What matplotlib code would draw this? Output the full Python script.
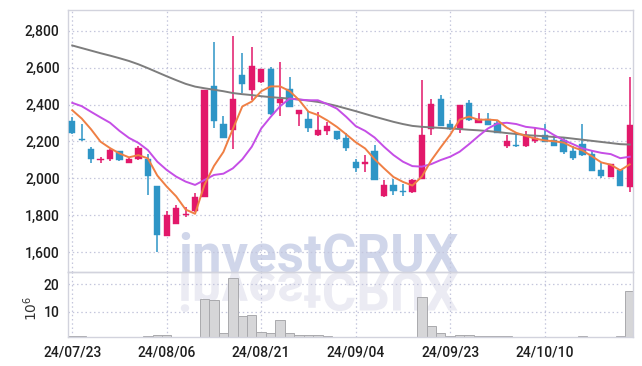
import matplotlib
matplotlib.use("Agg")
import matplotlib.pyplot as plt
from matplotlib.textpath import TextPath
from matplotlib.patches import PathPatch
from matplotlib.font_manager import FontProperties
from matplotlib.transforms import Affine2D
import numpy as np

# ---------------- data ----------------
tick_idx = [0, 10, 20, 30, 40, 50]
tick_labels = ['24/07/23', '24/08/06', '24/08/21', '24/09/04', '24/09/23', '24/10/10']

opens = [2310, 2215, 2160, 2100, 2105, 2150, 2085, 2105, 2105, 1960,
         1685, 1750, 1800, 1820, 1900, 2500, 2295, 2260, 2560, 2480,
         2520, 2590, 2410, 2485, 2350, 2320, 2235, 2258, 2255, 2220,
         2090, 2077, 2148, 1902, 1963, 1930, 1925, 1995, 2265, 2432,
         2293, 2265, 2408, 2301, 2320, 2300, 2175, 2178, 2175, 2200,
         2234, 2207, 2207, 2148, 2188, 2131, 2045, 2009, 2045, 1955]
highs = [2330, 2295, 2170, 2115, 2160, 2150, 2110, 2175, 2130, 1960,
         1820, 1855, 1847, 1922, 2480, 2740, 2340, 2770, 2680, 2710,
         2590, 2605, 2630, 2550, 2370, 2365, 2360, 2305, 2258, 2243,
         2103, 2126, 2178, 1990, 1995, 1968, 1998, 2535, 2428, 2450,
         2318, 2400, 2427, 2355, 2355, 2312, 2234, 2247, 2257, 2273,
         2297, 2222, 2225, 2175, 2297, 2153, 2081, 2080, 2048, 2550]
lows = [2240, 2200, 2085, 2085, 2095, 2095, 2085, 2100, 1910, 1603,
        1685, 1750, 1790, 1815, 1900, 2270, 2218, 2160, 2460, 2425,
        2515, 2345, 2340, 2385, 2283, 2250, 2228, 2235, 2205, 2150,
        2032, 2032, 1990, 1900, 1910, 1904, 1922, 1995, 2235, 2283,
        2262, 2243, 2312, 2300, 2288, 2245, 2162, 2170, 2170, 2190,
        2196, 2175, 2131, 2099, 2120, 2040, 2000, 2005, 1958, 1928]
closes = [2245, 2210, 2105, 2103, 2155, 2100, 2105, 2165, 2015, 1690,
          1800, 1840, 1808, 1900, 2477, 2310, 2220, 2430, 2510, 2610,
          2590, 2350, 2430, 2385, 2370, 2270, 2260, 2283, 2212, 2165,
          2058, 2090, 1992, 1965, 1930, 1926, 1990, 2235, 2405, 2285,
          2265, 2400, 2316, 2320, 2290, 2247, 2200, 2175, 2237, 2216,
          2198, 2177, 2140, 2112, 2127, 2041, 2010, 2077, 1960, 2288]
volume_m = [0.9, 0.9, 0.8, 0.4, 0.4, 0.4, 0.4, 0.7, 1.0, 1.3,
            1.3, 0.5, 0.5, 0.5, 14.5, 14.1, 2.1, 22.2, 8.4, 8.8,
            2.7, 2.3, 7.0, 2.1, 1.5, 1.4, 1.3, 1.0, 0.8, 0.8,
            0.8, 0.5, 0.5, 0.8, 0.8, 0.8, 0.5, 15.3, 4.8, 2.1,
            0.9, 1.5, 1.5, 0.9, 0.9, 0.9, 0.9, 0.5, 0.5, 0.5,
            0.5, 0.5, 0.5, 0.5, 0.9, 0.5, 0.5, 0.5, 0.9, 17.7]
ma5 = [2369, 2324, 2265, 2198, 2163.6, 2134.6, 2113.6, 2125.6, 2108, 2015,
       1955, 1902, 1830.6, 1807.6, 1965, 2067, 2143, 2267.4, 2389.4, 2416,
       2472, 2498, 2498, 2473, 2425, 2361, 2343, 2313.6, 2279, 2238,
       2195.6, 2161.6, 2103.4, 2054, 2007, 1980.6, 1960.6, 2009.2, 2097.2, 2168.2,
       2236, 2318, 2334.2, 2317.2, 2318.2, 2314.6, 2274.6, 2246.4, 2229.8, 2215,
       2205.2, 2200.6, 2193.6, 2168.6, 2150.8, 2119.4, 2086, 2073.4, 2043, 2075.2]
ma20 = [2409, 2391, 2360, 2330, 2301, 2257, 2219, 2192, 2153, 2090,
        2045, 2009, 1982, 1964, 1991, 2018, 2025, 2054, 2103, 2171,
        2270, 2333, 2391, 2432, 2427, 2423, 2423, 2402, 2378, 2333,
        2283, 2257, 2221, 2171, 2126, 2090, 2066, 2063, 2077, 2099,
        2117, 2144, 2185, 2229, 2270, 2297, 2301, 2294, 2279, 2273,
        2265, 2234, 2207, 2185, 2162, 2149, 2138, 2131, 2109, 2117]
ma_long = [2720, 2706, 2692, 2678, 2665, 2651, 2636, 2618, 2597, 2575,
           2553, 2532, 2512, 2497, 2488, 2480, 2472, 2462, 2456, 2451,
           2445, 2440, 2436, 2432, 2427, 2421, 2414, 2404, 2392, 2378,
           2364, 2349, 2334, 2320, 2306, 2294, 2284, 2279, 2276, 2273,
           2270, 2267, 2263, 2260, 2256, 2251, 2245, 2240, 2234, 2231,
           2228, 2224, 2221, 2215, 2209, 2203, 2197, 2191, 2185, 2183]
price_ticks = [1600, 1800, 2000, 2200, 2400, 2600, 2800]
volume_ticks = [10, 20]
watermark = 'investCRUX'

# ---------------- styling ----------------
UP = '#e2186a'
DOWN = '#2e95c6'
GRID = '#c4c6dc'
SPINE = '#d2d3dd'
TXT = '#1e1e1e'

plt.rcParams['font.family'] = ['Roboto', 'DejaVu Sans']

fig = plt.figure(figsize=(6.42, 3.66), dpi=100)
L, R = 68 / 642, 633 / 642
top = 1 - 9.5 / 366
mid = 1 - 272 / 366
bot = 1 - 337.3 / 366
ax = fig.add_axes([L, mid, R - L, top - mid])
axv = fig.add_axes([L, bot, R - L, mid - bot], sharex=ax)
for a in (ax, axv):
    a.set_facecolor('none')
    for s in a.spines.values():
        s.set_color(SPINE)
        s.set_linewidth(1.0)
    a.grid(True, color=GRID, linestyle=(0, (1.2, 2.2)), linewidth=0.9)
    a.set_axisbelow(True)
    a.tick_params(length=0, colors=TXT, labelsize=10)

# watermark (behind everything)
wm_size = 38
fp = FontProperties(family='Roboto', weight='bold')
fig.text(178 / 642, 1 - 271 / 366, watermark, fontproperties=fp, fontsize=wm_size,
         color='#d0d6ea', zorder=-5, ha='left', va='baseline')
tp = TextPath((0, 0), watermark, size=wm_size * 100 / 72, prop=fp)
patch = PathPatch(tp, facecolor='#ebebf3', edgecolor='none', zorder=-6)
patch.set_transform(Affine2D().scale(1, -1).translate(178, 366 - 273))
fig.patches.append(patch)

n = len(closes)
x = np.arange(n)
o = np.array(opens); c = np.array(closes)
h = np.array(highs); lo = np.array(lows)
up = c >= o
cols = np.where(up, UP, DOWN)

ax.vlines(x, lo, h, colors=cols, linewidth=1.1, zorder=2)
body_lo = np.minimum(o, c)
body_h = np.maximum(np.abs(c - o), 4)
ax.bar(x, body_h, bottom=body_lo, width=0.66, color=cols, edgecolor=cols,
       linewidth=0.3, zorder=3)

ax.plot(x, ma_long, color='#7d7d7d', linewidth=1.4, zorder=4)
ax.plot(x, ma20, color='#c54ee6', linewidth=1.4, zorder=4)
ax.plot(x, ma5, color='#ef7f44', linewidth=1.4, zorder=4)

ax.set_ylim(1492, 2915)
ax.set_yticks(price_ticks)
ax.set_yticklabels([f'{v:,}' for v in price_ticks])
ax.tick_params(axis='x', labelbottom=False)

axv.bar(x, volume_m, width=1.0, color='#d6d6d8', edgecolor='#a9a9ad',
        linewidth=0.7, zorder=2)
axv.set_ylim(0.6, 24.5)
axv.set_yticks(volume_ticks)
axv.set_yticklabels([str(v) for v in volume_ticks])
axv.set_ylabel(r'$10^6$', fontsize=10, color='#333333', family='DejaVu Sans')
axv.yaxis.set_label_coords(-0.05, 0.45)

axv.set_xlim(-0.45, 59.35)
axv.set_xticks(tick_idx)
axv.set_xticklabels(tick_labels)
axv.tick_params(axis='x', pad=6)
for a in (ax, axv):
    a.tick_params(axis='y', pad=6)
for lab in ax.get_yticklabels() + axv.get_yticklabels() + axv.get_xticklabels():
    lab.set_fontweight('medium')

fig.savefig('out.png', dpi=100)
